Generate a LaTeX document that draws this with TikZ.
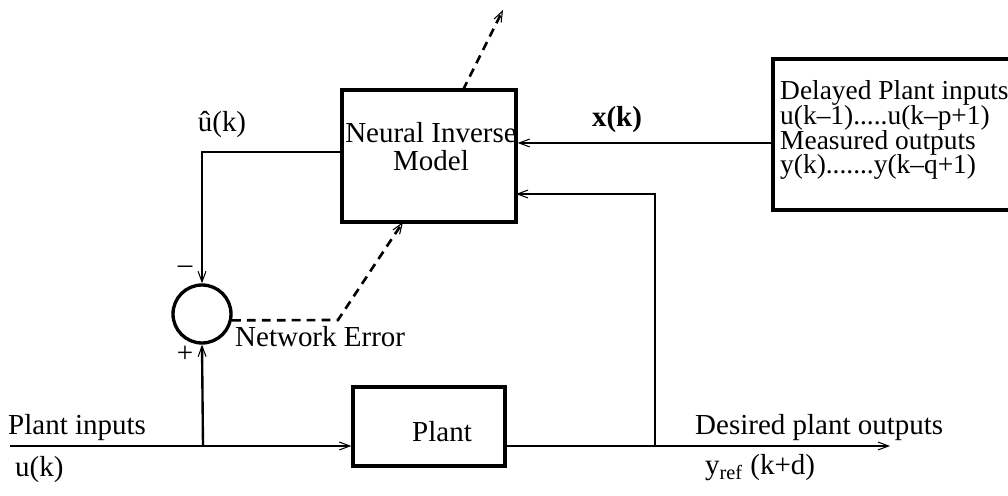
\documentclass[tikz,border=0pt]{standalone}
\usepackage{fontspec}
\setmainfont{Liberation Serif}
\usepackage{tikz}
\usetikzlibrary{arrows.meta,positioning}

\begin{document}
\begin{tikzpicture}[x=0.02cm, y=-0.02cm,
    font=\fontsize{16.5}{16}\selectfont,
    blockbox/.style={draw, line width=1.9pt, inner sep=0pt},
    sig/.style={line width=1.35pt, -{Straight Barb[length=6pt,width=4.5pt,line width=0.6pt]}},
    wire/.style={line width=1.35pt},
    errline/.style={line width=1.5pt, dash pattern=on 5pt off 3.5pt,
        -{Straight Barb[length=6pt,width=4.5pt,line width=0.6pt]}}]
\useasboundingbox (0,0) rectangle (1008,496);

% Blocks
\node[blockbox, minimum width=3.48cm, minimum height=2.64cm] (nim) at (429,156) {};
\node[align=center] (nimtext) at (431,147) {Neural Inverse\\Model};
\node[blockbox, minimum width=4.84cm, minimum height=3.02cm] (inbox) at (894,134.5) {};
\node[anchor=west, align=left, font=\fontsize{15.6}{13}\selectfont] (intext) at (774,130)
    {Delayed Plant inputs\\[-1pt]u(k--1).....u(k--p+1)\\[-1pt]Measured outputs\\[-1pt]y(k).......y(k--q+1)};
\node[blockbox, minimum width=3.04cm, minimum height=1.58cm] (plant) at (429,426.5) {};
\node (planttext) at (442,432) {Plant};
\node[draw, circle, line width=1.9pt, minimum size=1.16cm, inner sep=0pt] (sum) at (202,314) {};

% Points on the wires
\coordinate (xin) at (773,143);
\coordinate (uhat) at (342,152);
\coordinate (uin) at (10,446);
\coordinate (split) at (203,446);
\coordinate (tap) at (655,446);
\coordinate (fbin) at (516,194);
\coordinate (yout) at (890,446);
\coordinate (bend) at (338,320);
\coordinate (errin) at (403,222);
\coordinate (wout) at (463,90);
\coordinate (wtip) at (503,10);

% Signals
\draw[sig] (xin) -- (xin -| nim.east);
\draw[sig] (tap) |- (fbin);
\draw[sig] (uhat) -| (sum.north);
\draw[sig] (uin) -- (uin -| plant.west);
\draw[sig] (split) -- (sum.south);
\draw[wire] (plant.east |- uin) -- (tap);
\draw[sig] (tap) -- (yout);

% Error and weight update
\draw[errline] (sum.-12) -- (bend) -- (errin);
\draw[errline] (wout) -- (wtip);

% Labels
\node (xlabel) at (617,120) {\textbf{x(k)}};
\node (uhatlabel) at (222,125) {û(k)};
\node (minus) at (185,270) {--};
\node (plus) at (185,354) {+};
\node[anchor=west] (errlabel) at (229,337) {Network Error};
\node[anchor=west] (inlabel) at (2,428) {Plant inputs};
\node[anchor=west] (ulabel) at (9,470) {u(k)};
\node[anchor=west] (outlabel) at (689,428) {Desired plant outputs};
\node[anchor=west] (yreflabel) at (699,468) {y\textsubscript{ref} (k+d)};
\end{tikzpicture}
\end{document}
